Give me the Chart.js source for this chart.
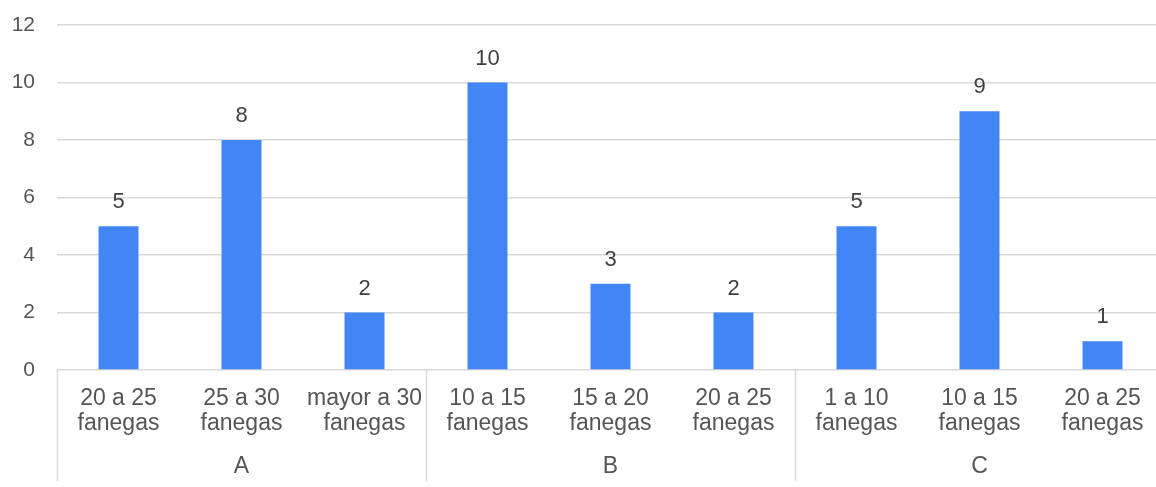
<!DOCTYPE html>
<html>
<head>
<meta charset="utf-8">
<script src="https://cdn.jsdelivr.net/npm/chart.js@4.4.1/dist/chart.umd.min.js"></script>
<style>
  html, body { margin: 0; padding: 0; background: #ffffff; overflow: hidden; }
  #wrap { position: relative; width: 1164px; height: 487px; }
</style>
</head>
<body>
<div id="wrap"><canvas id="c"></canvas></div>
<script>
// ---- data ----
const sizeLabels = [
  ['20 a 25', 'fanegas'], ['25 a 30', 'fanegas'], ['mayor a 30', 'fanegas'],
  ['10 a 15', 'fanegas'], ['15 a 20', 'fanegas'], ['20 a 25', 'fanegas'],
  ['1 a 10', 'fanegas'], ['10 a 15', 'fanegas'], ['20 a 25', 'fanegas']
];
const groupLabels = ['A', 'B', 'C'];
const groupSizes = [3, 3, 3];
const values = [5, 8, 2, 10, 3, 2, 5, 9, 1];
const yTicks = [0, 2, 4, 6, 8, 10, 12];

const FONT = "'Liberation Sans', Arial, sans-serif";

const groupPlugin = {
  id: 'groupPlugin',
  afterDatasetsDraw(chart) {
    const ctx = chart.ctx;
    const meta = chart.getDatasetMeta(0);
    ctx.save();
    ctx.font = '22px ' + FONT;
    ctx.fillStyle = '#404040';
    ctx.textAlign = 'center';
    ctx.textBaseline = 'middle';
    meta.data.forEach((bar, i) => {
      ctx.fillText(String(values[i]), bar.x, bar.y - 24);
    });
    ctx.restore();
  },
  afterDraw(chart) {
    const ctx = chart.ctx;
    const xs = chart.scales.x;
    const area = chart.chartArea;
    const catW = (xs.right - xs.left) / sizeLabels.length;
    ctx.save();
    ctx.strokeStyle = '#d9d9d9';
    ctx.lineWidth = 1.5;
    let start = 0;
    const bounds = [0];
    groupSizes.forEach(n => { start += n; bounds.push(start); });
    bounds.forEach(b => {
      const x = Math.round(xs.left + b * catW) + 0.5;
      ctx.beginPath();
      ctx.moveTo(x, area.bottom);
      ctx.lineTo(x, 481);
      ctx.stroke();
    });
    ctx.font = '23px ' + FONT;
    ctx.fillStyle = '#555555';
    ctx.textAlign = 'center';
    ctx.textBaseline = 'middle';
    groupLabels.forEach((g, k) => {
      const cx = xs.left + (bounds[k] + bounds[k + 1]) / 2 * catW;
      ctx.fillText(g, cx, 467);
    });
    ctx.restore();
  }
};

new Chart(document.getElementById('c'), {
  type: 'bar',
  data: {
    labels: sizeLabels,
    datasets: [{
      data: values,
      backgroundColor: '#4285F4',
      borderWidth: 0,
      categoryPercentage: 1,
      barPercentage: 0.325
    }]
  },
  options: {
    responsive: true,
    maintainAspectRatio: false,
    animation: false,
    layout: { padding: { top: 25, right: 0, left: 0, bottom: 0 } },
    plugins: { legend: { display: false }, tooltip: { enabled: false } },
    scales: {
      x: {
        grid: { display: false, drawTicks: false },
        border: { display: false },
        ticks: {
          color: '#555555',
          font: { family: FONT, size: 23, lineHeight: 1.087 },
          padding: 16,
          maxRotation: 0,
          autoSkip: false
        },
        afterFit(s) { s.height = 117; }
      },
      y: {
        min: 0,
        max: 12,
        afterBuildTicks(s) { s.ticks = yTicks.map(v => ({ value: v })); },
        grid: { color: '#d9d9d9', lineWidth: 1.5, drawTicks: true, tickLength: 22, tickColor: 'rgba(0,0,0,0)' },
        border: { display: false },
        ticks: {
          color: '#555555',
          font: { family: FONT, size: 21 },
          padding: 0
        },
        afterFit(s) { s.width = 57; }
      }
    }
  },
  plugins: [groupPlugin]
});
</script>
</body>
</html>
